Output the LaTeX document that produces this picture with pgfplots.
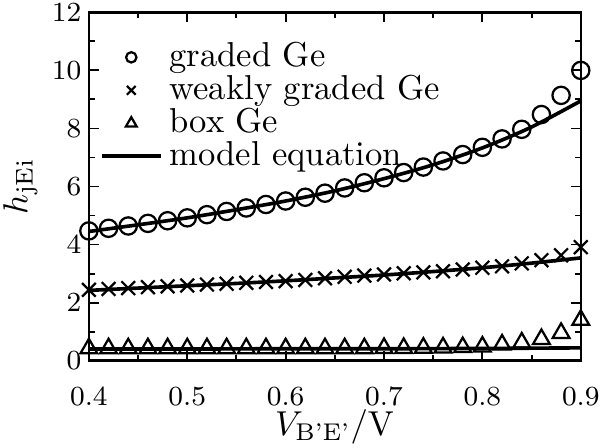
\documentclass[border=0pt]{standalone}
\usepackage{amsmath}
\usepackage{pgfplots}
\pgfplotsset{compat=1.18}

\begin{document}
\begin{tikzpicture}
  \begin{axis}[
    width=5.0cm, height=3.54cm, scale only axis,
    xmin=0.4, xmax=0.9, ymin=0, ymax=12,
    xtick={0.4,0.5,...,0.9}, ytick={0,2,...,12},
    minor tick num=1,
    tick label style={font=\footnotesize, inner sep=1pt},
    xticklabel style={yshift=-6.5pt, /pgf/number format/fixed, /pgf/number format/precision=1, /pgf/number format/fixed zerofill},
    yticklabel style={xshift=-1pt},
    axis line style={line width=0.72pt},
    every tick/.style={black, line width=0.55pt},
    major tick length=2.8pt, minor tick length=1.7pt,
    xlabel={$V_{\text{B'E'}}/\mathrm{V}$},
    ylabel={$h_{\mathrm{jEi}}$},
    xlabel style={inner sep=1pt, yshift=1pt},
    ylabel style={inner sep=1pt, yshift=2pt},
    legend style={draw=none, fill=none, at={(0.0,0.955)}, anchor=north west,
      row sep=-3pt, font=\normalsize},
    legend cell align=left,
  ]
    % graded Ge
    \addplot[only marks, mark=o, mark size=2.5pt, line width=0.65pt,
      legend image post style={mark size=1.5pt}] coordinates {
      (0.40,4.47) (0.42,4.56) (0.44,4.64) (0.46,4.73) (0.48,4.82)
      (0.50,4.92) (0.52,5.03) (0.54,5.14) (0.56,5.26) (0.58,5.38)
      (0.60,5.50) (0.62,5.63) (0.64,5.77) (0.66,5.95) (0.68,6.13)
      (0.70,6.30) (0.72,6.48) (0.74,6.67) (0.76,6.88) (0.78,7.10)
      (0.80,7.35) (0.82,7.64) (0.84,7.97) (0.86,8.48) (0.88,9.14)
      (0.90,10.0)
    };
    \addlegendentry{graded Ge}
    % weakly graded Ge
    \addplot[only marks, mark=x, mark size=2.8pt, line width=0.65pt,
      legend image post style={mark size=1.8pt}] coordinates {
      (0.40,2.44) (0.42,2.47) (0.44,2.50) (0.46,2.53) (0.48,2.56)
      (0.50,2.59) (0.52,2.62) (0.54,2.65) (0.56,2.68) (0.58,2.71)
      (0.60,2.74) (0.62,2.78) (0.64,2.84) (0.66,2.89) (0.68,2.93)
      (0.70,2.97) (0.72,3.01) (0.74,3.04) (0.76,3.08) (0.78,3.14)
      (0.80,3.20) (0.82,3.25) (0.84,3.35) (0.86,3.46) (0.88,3.63)
      (0.90,3.91)
    };
    \addlegendentry{weakly graded Ge}
    % box Ge
    \addplot[only marks, mark=triangle, mark size=2.8pt, line width=0.65pt,
      legend image post style={mark size=1.8pt}] coordinates {
      (0.40,0.42) (0.42,0.42) (0.44,0.42) (0.46,0.42) (0.48,0.42)
      (0.50,0.42) (0.52,0.42) (0.54,0.42) (0.56,0.42) (0.58,0.42)
      (0.60,0.42) (0.62,0.42) (0.64,0.42) (0.66,0.42) (0.68,0.42)
      (0.70,0.43) (0.72,0.43) (0.74,0.44) (0.76,0.45) (0.78,0.46)
      (0.80,0.48) (0.82,0.55) (0.84,0.62) (0.86,0.74) (0.88,0.95)
      (0.90,1.40)
    };
    \addlegendentry{box Ge}
    % model equation
    \addplot[black, line width=1.05pt, smooth] coordinates {
      (0.40,4.45) (0.45,4.68) (0.50,4.92) (0.55,5.20) (0.60,5.50)
      (0.65,5.85) (0.70,6.27) (0.75,6.75) (0.80,7.33) (0.85,8.05)
      (0.90,8.95)
    };
    \addlegendentry{model equation}
    \addplot[black, line width=1.05pt, smooth, forget plot] coordinates {
      (0.40,2.42) (0.45,2.50) (0.50,2.58) (0.55,2.66) (0.60,2.75)
      (0.65,2.85) (0.70,2.95) (0.75,3.07) (0.80,3.20) (0.85,3.36)
      (0.90,3.54)
    };
    \addplot[black, line width=1.05pt, smooth, forget plot] coordinates {
      (0.40,0.40) (0.50,0.40) (0.60,0.41) (0.70,0.41) (0.80,0.42)
      (0.90,0.44)
    };
  \end{axis}
\end{tikzpicture}
\end{document}
